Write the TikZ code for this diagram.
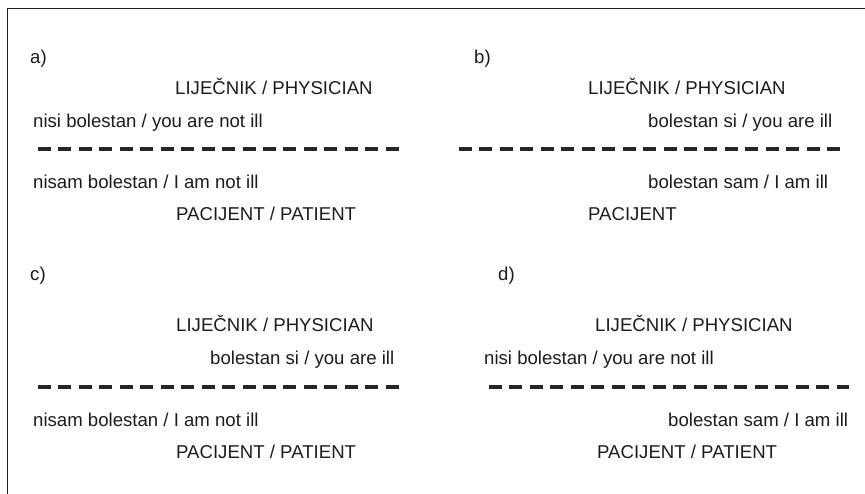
\documentclass[tikz,border=0pt]{standalone}
\usepackage{fontspec}
\setmainfont{Liberation Sans}
\definecolor{ink}{HTML}{1E1B1C}
\definecolor{dashink}{HTML}{262626}
\begin{document}
\begin{tikzpicture}[x=1pt,y=-1pt,
  txt/.style={anchor=base west,inner sep=0pt,text=ink,font=\fontsize{18.6}{22}\selectfont},
  divider/.style={draw=dashink,line width=4.6pt,dash pattern=on 13pt off 7.45pt},
  frame/.style={draw=ink,line width=1pt}]
\useasboundingbox (0,0) rectangle (865,494);
% frame
\coordinate (f1) at (865,9);
\coordinate (f2) at (7,9);
\coordinate (f3) at (7,494);
\draw[frame] (f1) -- (f2) -- (f3);
% panel a
\node[txt] (la) at (30,64) {a)};
\node[txt] (pha) at (175,95) {LIJEČNIK / PHYSICIAN};
\node[txt] (sa1) at (33,128) {nisi bolestan / you are not ill};
\coordinate (da1) at (38,149);
\coordinate (da2) at (400,149);
\draw[divider] (da1) -- (da2);
\node[txt] (sa2) at (33,189) {nisam bolestan / I am not ill};
\node[txt] (pta) at (176,221) {PACIJENT / PATIENT};
% panel b
\node[txt] (lb) at (474,64) {b)};
\node[txt] (phb) at (588,95) {LIJEČNIK / PHYSICIAN};
\node[txt] (sb1) at (648,128) {bolestan si / you are ill};
\coordinate (db1) at (459,149);
\coordinate (db2) at (840,149);
\draw[divider] (db1) -- (db2);
\node[txt] (sb2) at (648,189) {bolestan sam / I am ill};
\node[txt] (ptb) at (588,221) {PACIJENT};
% panel c
\node[txt] (lc) at (30,281) {c)};
\node[txt] (phc) at (176,332) {LIJEČNIK / PHYSICIAN};
\node[txt] (sc1) at (210,364) {bolestan si / you are ill};
\coordinate (dc1) at (38,387);
\coordinate (dc2) at (400,387);
\draw[divider] (dc1) -- (dc2);
\node[txt] (sc2) at (33,426) {nisam bolestan / I am not ill};
\node[txt] (ptc) at (176,458) {PACIJENT / PATIENT};
% panel d
\node[txt] (ld) at (498,281) {d)};
\node[txt] (phd) at (595,332) {LIJEČNIK / PHYSICIAN};
\node[txt] (sd1) at (484,364) {nisi bolestan / you are not ill};
\coordinate (dd1) at (489,387);
\coordinate (dd2) at (849,387);
\draw[divider] (dd1) -- (dd2);
\node[txt] (sd2) at (668,426) {bolestan sam / I am ill};
\node[txt] (ptd) at (597,458) {PACIJENT / PATIENT};
\end{tikzpicture}
\end{document}
